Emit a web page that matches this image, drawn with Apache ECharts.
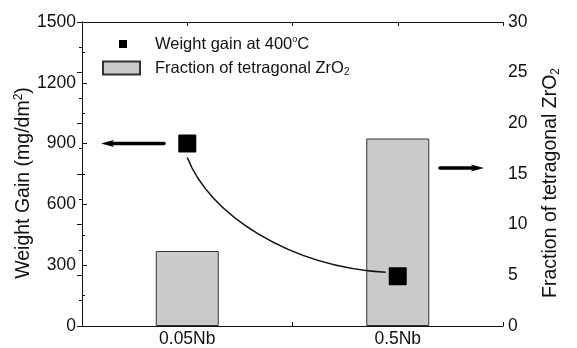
<!DOCTYPE html>
<html>
<head>
<meta charset="utf-8">
<script src="https://cdn.jsdelivr.net/npm/echarts@6/dist/echarts.min.js"></script>
<style>
  html, body { margin: 0; padding: 0; background: #fff; }
  #chart { width: 577px; height: 348px; }
</style>
</head>
<body>
<div id="chart"></div>
<script>
// Alloys and measured quantities
const categories = ['0.05Nb', '0.5Nb'];
const weightGain = [900, 245];          // mg/dm², left axis
const tetragonalFraction = [7.4, 18.5]; // %, right axis
const leftTicks = { min: 0, max: 1500, interval: 300 };
const rightTicks = { min: 0, max: 30, interval: 5 };

const FONT = 'Liberation Sans, Arial, sans-serif';
const INK = '#111';

const chart = echarts.init(document.getElementById('chart'), null, { renderer: 'canvas' });

const baseText = { fontFamily: FONT, color: INK };
const plain = (v) => String(v);
const SQUARE = 'path://M1,0 H17 Q18,0 18,1 V17 Q18,18 17,18 H1 Q0,18 0,17 V1 Q0,0 1,0 Z';

const option = {
  animation: false,
  backgroundColor: '#fff',
  grid: { left: 82, right: 74, top: 22, bottom: 20, containLabel: false },
  legend: [
    {
      data: [{ name: 'weight', icon: 'rect', itemStyle: { color: '#000', opacity: 1 } }],
      left: 114, top: 30,
      itemWidth: 8, itemHeight: 8,
      selectedMode: false,
      formatter: () => '{t|Weight gain at 400}{sup|o}{t|C}',
      textStyle: {
        ...baseText,
        padding: [0, 0, 0, 23],
        rich: {
          t: { fontFamily: FONT, fontSize: 16.5, color: INK, lineHeight: 18 },
          sup: { fontFamily: FONT, fontSize: 9, color: INK, verticalAlign: 'top', lineHeight: 18, padding: [0, 0, 9, 0] }
        }
      }
    },
    {
      data: [{ name: 'fraction', icon: 'rect' }],
      left: 97, top: 53,
      itemWidth: 37, itemHeight: 13,
      selectedMode: false,
      formatter: () => '{t|Fraction of tetragonal ZrO}{sub|2}',
      textStyle: {
        ...baseText,
        padding: [0, 0, 0, 10],
        rich: {
          t: { fontFamily: FONT, fontSize: 16.5, color: INK, lineHeight: 18 },
          sub: { fontFamily: FONT, fontSize: 10, color: INK, verticalAlign: 'bottom', lineHeight: 18, padding: [9, 0, 0, 0] }
        }
      }
    }
  ],
  xAxis: [
    {
      type: 'category', data: categories, boundaryGap: true, position: 'bottom',
      axisLine: { show: true, lineStyle: { color: INK, width: 1 } },
      axisTick: { show: false },
      axisLabel: { ...baseText, fontSize: 17.5, margin: 4 },
      splitLine: { show: false }
    },
    {
      type: 'value', min: 0, max: 4, interval: 1, position: 'bottom',
      axisLine: { show: false },
      axisTick: { show: true, inside: true, length: 4, lineStyle: { color: INK } },
      axisLabel: { show: false }, splitLine: { show: false }
    },
    {
      type: 'value', min: 0, max: 4, interval: 1, position: 'top',
      axisLine: { show: true, lineStyle: { color: INK, width: 1 } },
      axisTick: { show: true, inside: true, length: 4, lineStyle: { color: INK } },
      axisLabel: { show: false }, splitLine: { show: false }
    }
  ],
  yAxis: [
    {
      type: 'value', position: 'left', ...leftTicks,
      name: '{t|Weight Gain (mg/dm}{sup|2}{t|)}',
      nameLocation: 'middle', nameGap: 47, nameMoveOverlap: false,
      nameTextStyle: {
        padding: [0, 18, 0, 0],
        rich: {
          t: { fontFamily: FONT, fontSize: 19.5, color: INK, lineHeight: 22 },
          sup: { fontFamily: FONT, fontSize: 12, color: INK, verticalAlign: 'top', lineHeight: 22, padding: [0, 0, 8, 0] }
        }
      },
      axisLine: { show: true, lineStyle: { color: INK, width: 1 } },
      axisTick: { show: true, inside: true, length: 5, lineStyle: { color: INK } },
      minorTick: { show: true, splitNumber: 2, length: 3, lineStyle: { color: INK } },
      axisLabel: { ...baseText, fontSize: 17.5, margin: 6, formatter: plain },
      splitLine: { show: false }
    },
    {
      type: 'value', position: 'right', ...rightTicks,
      name: '{t|Fraction of tetragonal ZrO}{sub|2}',
      nameLocation: 'middle', nameGap: 37, nameRotate: 90, nameMoveOverlap: false,
      nameTextStyle: {
        padding: [0, 18, 0, 0],
        rich: {
          t: { fontFamily: FONT, fontSize: 19.5, color: INK, lineHeight: 22 },
          sub: { fontFamily: FONT, fontSize: 12, color: INK, verticalAlign: 'bottom', lineHeight: 22, padding: [10, 0, 0, 0] }
        }
      },
      axisLine: { show: true, lineStyle: { color: INK, width: 1 } },
      axisTick: { show: true, inside: true, length: 5, lineStyle: { color: INK } },
      minorTick: { show: true, splitNumber: 2, length: 3, lineStyle: { color: INK } },
      axisLabel: { ...baseText, fontSize: 17.5, margin: 5, formatter: plain },
      splitLine: { show: false }
    }
  ],
  series: [
    {
      name: 'fraction', type: 'bar', xAxisIndex: 0, yAxisIndex: 1,
      data: tetragonalFraction, barWidth: 63,
      itemStyle: { color: '#cbcbcb', borderColor: '#333', borderWidth: 1 },
      z: 1
    },
    {
      // connector curve between the two weight-gain points
      name: 'trend', type: 'custom', xAxisIndex: 0, yAxisIndex: 0,
      data: [[0, weightGain[0]]],
      silent: true, z: 2,
      renderItem: (params, api) => {
        const a = api.coord([0, weightGain[0]]);
        const b = api.coord([1, weightGain[1]]);
        return {
          type: 'bezierCurve',
          shape: {
            x1: a[0], y1: a[1] + 14,
            cpx1: a[0] + 22, cpy1: a[1] + 71,
            cpx2: a[0] + 102, cpy2: b[1] - 10,
            x2: b[0] - 12, y2: b[1] - 4
          },
          style: { stroke: INK, lineWidth: 1.5, fill: null }
        };
      }
    },
    {
      name: 'weight', type: 'scatter', xAxisIndex: 0, yAxisIndex: 0,
      data: weightGain, symbol: SQUARE, symbolSize: 18,
      itemStyle: { color: '#000', opacity: 1 }, z: 3
    }
  ]
};

chart.setOption(option);

// Arrows pointing each data set to its own axis
function arrow(x1, x2, y, head, half) {
  const dir = Math.sign(x2 - x1);
  return [
    { type: 'line', shape: { x1: x1, y1: y, x2: x2 - dir * head * 0.6, y2: y },
      style: { stroke: '#000', lineWidth: 3.5, lineCap: 'round' }, z: 10 },
    { type: 'polygon', shape: { points: [[x2, y], [x2 - dir * head, y - half], [x2 - dir * head * 0.8, y], [x2 - dir * head, y + half]] },
      style: { fill: '#000' }, z: 10 }
  ];
}
const yLeft = chart.convertToPixel({ yAxisIndex: 0 }, weightGain[0]);
chart.setOption({
  graphic: [
    ...arrow(164, 101, yLeft, 13, 3.5),
    ...arrow(440, 484, 168, 13, 3.5)
  ]
});
</script>
</body>
</html>
